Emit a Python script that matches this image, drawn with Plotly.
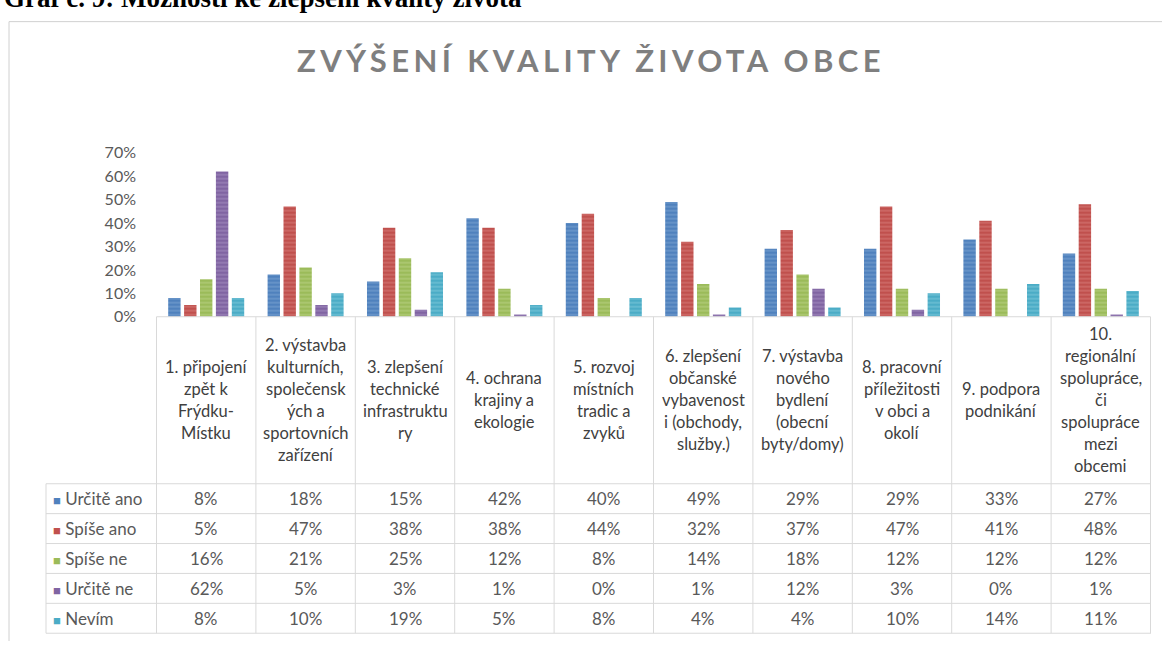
import plotly.graph_objects as go

# ---------------- data ----------------
categories = [
    "1. připojení zpět k Frýdku-Místku",
    "2. výstavba kulturních, společenských a sportovních zařízení",
    "3. zlepšení technické infrastruktury",
    "4. ochrana krajiny a ekologie",
    "5. rozvoj místních tradic a zvyků",
    "6. zlepšení občanské vybavenosti (obchody, služby.)",
    "7. výstavba nového bydlení (obecní byty/domy)",
    "8. pracovní příležitosti v obci a okolí",
    "9. podpora podnikání",
    "10. regionální spolupráce, či spolupráce mezi obcemi",
]
header_lines = [
    ["1. připojení", "zpět k", "Frýdku-", "Místku"],
    ["2. výstavba", "kulturních,", "společensk", "ých a", "sportovních", "zařízení"],
    ["3. zlepšení", "technické", "infrastruktu", "ry"],
    ["4. ochrana", "krajiny a", "ekologie"],
    ["5. rozvoj", "místních", "tradic a", "zvyků"],
    ["6. zlepšení", "občanské", "vybavenost", "i (obchody,", "služby.)"],
    ["7. výstavba", "nového", "bydlení", "(obecní", "byty/domy)"],
    ["8. pracovní", "příležitosti", "v obci a", "okolí"],
    ["9. podpora", "podnikání"],
    ["10.", "regionální", "spolupráce,", "či", "spolupráce", "mezi", "obcemi"],
]
series_names = ["Určitě ano", "Spíše ano", "Spíše ne", "Určitě ne", "Nevím"]
urcite_ano = [8, 18, 15, 42, 40, 49, 29, 29, 33, 27]
spise_ano = [5, 47, 38, 38, 44, 32, 37, 47, 41, 48]
spise_ne = [16, 21, 25, 12, 8, 14, 18, 12, 12, 12]
urcite_ne = [62, 5, 3, 1, 0, 1, 12, 3, 0, 1]
nevim = [8, 10, 19, 5, 8, 4, 4, 10, 14, 11]
series_values = [urcite_ano, spise_ano, spise_ne, urcite_ne, nevim]
y_ticks = [0, 10, 20, 30, 40, 50, 60, 70]

colors = ["#4F81BD", "#C0504D", "#9BBB59", "#8064A2", "#4BACC6"]
light = ["#8EB0DA", "#DE8E8C", "#C4DA96", "#B5A1CF", "#90D2E3"]

# ---------------- layout constants (pixels) ----------------
W, H = 1162, 650
def px(yp):
    return (H - yp) / H

TABLE_LEFT, TABLE_RIGHT = 46, 1151
PLOT_LEFT = 156
AXIS_Y, HEADER_BOTTOM, TABLE_BOTTOM = 316, 488, 642
ROW_H = (TABLE_BOTTOM - HEADER_BOTTOM) / len(series_names)
GRID = "#D9D9D9"
TXT = "#595959"
FONT = "Lato"

fig = go.Figure()

for name, vals, c, lc in zip(series_names, series_values, colors, light):
    fig.add_trace(go.Bar(
        x=categories, y=[v / 100 for v in vals], name=name,
        marker=dict(color=c, line=dict(width=0),
                    pattern=dict(shape="-", fgcolor=lc, bgcolor=c, size=4, solidity=0.35)),
        showlegend=False,
    ))

annotations = []
shapes = []

# ---- data table grid ----
n_cat = len(categories)
for i in range(n_cat + 1):
    shapes.append(dict(type="line", xref="x", yref="paper", x0=i - 0.5, x1=i - 0.5,
                       y0=px(AXIS_Y), y1=px(TABLE_BOTTOM), line=dict(color=GRID, width=1)))
shapes.append(dict(type="line", xref="paper", yref="paper", x0=TABLE_LEFT / W, x1=TABLE_LEFT / W,
                   y0=px(HEADER_BOTTOM), y1=px(TABLE_BOTTOM), line=dict(color=GRID, width=1)))
shapes.append(dict(type="line", xref="x", yref="paper", x0=-0.5, x1=n_cat - 0.5,
                   y0=px(AXIS_Y), y1=px(AXIS_Y), line=dict(color=GRID, width=1)))
for r in range(len(series_names) + 1):
    yy = HEADER_BOTTOM + r * ROW_H
    shapes.append(dict(type="line", xref="paper", yref="paper", x0=TABLE_LEFT / W,
                       x1=TABLE_RIGHT / W, y0=px(yy), y1=px(yy), line=dict(color=GRID, width=1)))

# header labels (category names)
line_h = 22.6
mid = (AXIS_Y + HEADER_BOTTOM) / 2
for cat, lines in zip(categories, header_lines):
    n = len(lines)
    for k, t in enumerate(lines):
        yy = mid + (k - (n - 1) / 2) * line_h
        annotations.append(dict(x=cat, xref="x", y=px(yy), yref="paper", text=t,
                                showarrow=False, xanchor="center", yanchor="middle",
                                font=dict(family=FONT, size=16.5, color="#404040")))

# body rows
for r, (name, vals, c) in enumerate(zip(series_names, series_values, colors)):
    yc = HEADER_BOTTOM + (r + 0.5) * ROW_H
    annotations.append(dict(x=(TABLE_LEFT + 5) / W, xref="paper", y=px(yc), yref="paper",
                            text=f"<span style='color:{c};font-size:13px'>■</span> {name}",
                            showarrow=False, xanchor="left", yanchor="middle",
                            font=dict(family=FONT, size=17, color=TXT)))
    for cat, v in zip(categories, vals):
        annotations.append(dict(x=cat, xref="x", y=px(yc), yref="paper", text=f"{v}%",
                                showarrow=False, xanchor="center", yanchor="middle",
                                font=dict(family=FONT, size=17, color=TXT)))

# titles
annotations.append(dict(
    x=591 / W, y=px(52), xref="paper", yref="paper",
    text="<span style='letter-spacing:4.4px'>ZVÝŠENÍ KVALITY ŽIVOTA OBCE</span>",
    showarrow=False, xanchor="center", yanchor="middle",
    font=dict(family=FONT, size=31, color="#7F7F7F", weight="bold")))
annotations.append(dict(
    x=2 / W, y=px(-12), xref="paper", yref="paper",
    text="<b>Graf č. 9: Možnosti ke zlepšení kvality života</b>",
    showarrow=False, xanchor="left", yanchor="middle",
    font=dict(family="Liberation Serif", size=27, color="#000000")))

# chart frame
shapes += [
    dict(type="line", xref="paper", yref="paper", x0=9 / W, x1=1, y0=px(12), y1=px(12),
         line=dict(color="#D0D0D0", width=1)),
    dict(type="line", xref="paper", yref="paper", x0=9 / W, x1=9 / W, y0=px(12), y1=0,
         line=dict(color="#D0D0D0", width=1)),
]

fig.update_layout(
    width=W, height=H, margin=dict(l=0, r=0, t=0, b=0),
    paper_bgcolor="white", plot_bgcolor="white",
    barmode="group", bargap=0.2, bargroupgap=0.22,
    xaxis=dict(domain=[PLOT_LEFT / W, TABLE_RIGHT / W], showticklabels=False, showgrid=False,
               zeroline=False, showline=False, ticks=""),
    yaxis=dict(domain=[px(AXIS_Y), px(147)], range=[0, 0.7], tickvals=[v / 100 for v in y_ticks],
               tickformat=".0%", showgrid=False, zeroline=False, showline=False,
               tickfont=dict(family=FONT, size=16, color=TXT), ticklen=0, ticks="",
               ticklabelstandoff=19),
    annotations=annotations, shapes=shapes,
)

fig.write_html("out.html", config={"displayModeBar": False},
               post_script="document.body.style.margin='0';")
